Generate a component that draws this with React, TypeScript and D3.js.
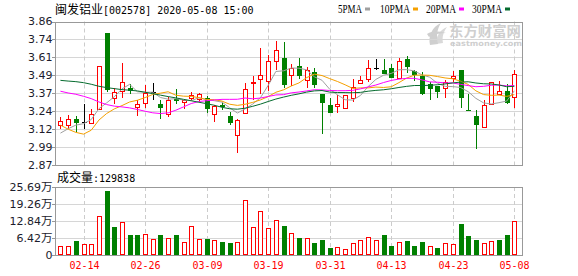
import React from 'react';
import * as d3 from 'd3';

const dates = ['02-11','02-12','02-13','02-14','02-17','02-18','02-19','02-20','02-21','02-24','02-25','02-26','02-27','02-28','03-02','03-03','03-04','03-05','03-06','03-09','03-10','03-11','03-12','03-13','03-16','03-17','03-18','03-19','03-20','03-23','03-24','03-25','03-26','03-27','03-30','03-31','04-01','04-02','04-03','04-07','04-08','04-09','04-10','04-13','04-14','04-15','04-16','04-17','04-20','04-21','04-22','04-23','04-24','04-27','04-28','04-29','04-30','05-06','05-07','05-08'];

const opens = [3.145,3.145,3.184,3.17,3.163,3.253,3.78,3.335,3.379,3.402,
  3.271,3.301,3.375,3.294,3.225,3.326,3.305,3.335,3.328,3.335,
  3.225,3.283,3.207,3.074,3.23,3.44,3.466,3.45,3.587,3.608,
  3.493,3.551,3.454,3.512,3.358,3.282,3.276,3.266,3.335,3.438,
  3.466,3.54,3.528,3.541,3.47,3.603,3.519,3.482,3.431,3.413,
  3.404,3.47,3.523,3.25,3.207,3.129,3.294,3.363,3.379,3.34];
const highs = [3.202,3.218,3.207,3.294,3.253,3.55,3.783,3.402,3.574,3.427,
  3.321,3.42,3.436,3.321,3.34,3.397,3.321,3.374,3.367,3.344,
  3.282,3.305,3.237,3.185,3.436,3.482,3.677,3.626,3.723,3.716,
  3.564,3.61,3.546,3.541,3.358,3.335,3.351,3.356,3.466,3.482,
  3.592,3.603,3.603,3.569,3.61,3.619,3.528,3.512,3.443,3.413,
  3.459,3.519,3.523,3.363,3.248,3.317,3.443,3.45,3.431,3.528];
const lows = [3.117,3.117,3.099,3.117,3.156,3.25,3.374,3.289,3.335,3.363,
  3.211,3.264,3.321,3.184,3.202,3.294,3.253,3.312,3.305,3.23,
  3.168,3.248,3.145,2.955,3.225,3.321,3.363,3.381,3.523,3.404,
  3.413,3.466,3.404,3.404,3.083,3.232,3.232,3.266,3.305,3.438,
  3.443,3.523,3.5,3.47,3.47,3.505,3.45,3.351,3.321,3.335,
  3.335,3.443,3.264,3.246,2.978,3.129,3.294,3.363,3.294,3.264];
const closes = [3.175,3.186,3.161,3.17,3.225,3.55,3.386,3.374,3.443,3.379,
  3.294,3.37,3.375,3.26,3.321,3.312,3.321,3.356,3.36,3.253,
  3.278,3.271,3.161,3.18,3.397,3.445,3.489,3.585,3.66,3.42,
  3.541,3.484,3.528,3.42,3.299,3.232,3.294,3.356,3.408,3.459,
  3.54,3.54,3.5,3.47,3.585,3.546,3.493,3.363,3.392,3.374,
  3.443,3.482,3.333,3.246,3.145,3.287,3.443,3.379,3.301,3.5];
// volume in 万手
const volumes = [3.40,3.40,5.29,4.03,4.03,14.73,24.17,10.58,12.34,7.55,
  7.55,7.81,6.04,7.55,6.42,7.55,4.78,10.83,6.04,6.04,
  5.54,4.91,4.53,4.78,20.78,10.58,16.49,10.2,13.09,10.95,
  8.18,6.42,6.3,4.53,5.67,2.64,3.02,2.27,4.53,5.54,
  6.67,5.54,7.55,3.40,4.78,5.29,3.40,4.91,3.40,2.64,
  4.41,4.15,11.71,7.18,5.67,4.41,5.16,5.67,7.55,12.98];

// moving-average values before enough closes are in the window
const ma5Head = [3.09, 3.12, 3.145, 3.155];
const ma10Head = [3.145, 3.117, 3.095, 3.083, 3.11, 3.18, 3.225, 3.257, 3.28];
const ma20Head = [3.379, 3.367, 3.358, 3.344, 3.328, 3.305, 3.287, 3.276, 3.271, 3.264, 3.253, 3.241, 3.23, 3.225, 3.23, 3.248, 3.271, 3.294, 3.308];
const ma30Head = [3.454, 3.449, 3.445, 3.438, 3.427, 3.413, 3.404, 3.397, 3.39, 3.386, 3.381, 3.372, 3.362, 3.352, 3.342, 3.333, 3.323, 3.313, 3.303, 3.293, 3.282, 3.268, 3.258, 3.255, 3.262, 3.275, 3.29, 3.308, 3.325];

const priceDomain = [2.87, 3.86];
const priceTickLabels = ['2.87','2.99','3.12','3.24','3.37','3.49','3.61','3.74','3.86'];
const volMax = 25.686;
const volTickLabels = ['0','6.42万','12.84万','19.26万','25.69万'];
const dateTickLabels = ['02-14','02-26','03-09','03-19','03-31','04-13','04-23','05-08'];
const legendItems = ['5PMA','10PMA','20PMA','30PMA'];
const maPeriods = [5, 10, 20, 30];
const maColors = ['#a0a0a0', '#f5a000', '#ff00ff', '#056b2e'];
const title = { name: '闽发铝业', rest: '[002578] 2020-05-08 15:00' };
const volLabel = { name: '成交量', rest: ':129838' };

const RED = '#ff0000';
const GREEN = '#008000';

function movingAvg(n: number, head: number[]) {
  return closes.map((c, i) => (i < n - 1 ? head[i] : (d3.mean(closes.slice(i - n + 1, i + 1)) as number)));
}

export default function App() {
  const W = 578, H = 276;
  const L = 55, R = 522;
  const pTop = 21.5, pBot = 165;
  const vTop = 187, vBot = 255;

  const x = d3.scaleBand<string>().domain(dates).range([56.6, 518.2]).paddingInner(0).paddingOuter(0);
  const bw = x.bandwidth();
  const cx = (d: string) => Math.round((x(d) as number) + bw / 2);
  const y = d3.scaleLinear().domain(priceDomain).range([pBot, pTop]);
  const yv = d3.scaleLinear().domain([0, volMax]).range([vBot, vTop]);

  const priceTickVals = priceTickLabels.map((_, k) => priceDomain[0] + (k * (priceDomain[1] - priceDomain[0])) / (priceTickLabels.length - 1));
  const volTickVals = volTickLabels.map((_, k) => (k * volMax) / (volTickLabels.length - 1));

  const heads = [ma5Head, ma10Head, ma20Head, ma30Head];
  const mas = maPeriods.map((n, k) => movingAvg(n, heads[k]));
  const line = d3.line<number>().x((_, i) => (x(dates[i]) as number) + bw / 2).y((v) => y(v));

  const monoFont = "'DejaVu Sans Mono', monospace";
  const cjkFont = "'Noto Sans CJK SC', sans-serif";
  const numFont = "'DejaVu Sans', sans-serif";

  return (
    <svg width={W} height={H} style={{ position: 'absolute', left: 0, top: 0, background: '#fff' }}>
      <rect x={0} y={0} width={W} height={H} fill="#fff" />
      {/* title */}
      <text x={55} y={14} fontSize={12} fill="#000">
        <tspan fontFamily={cjkFont}>{title.name}</tspan>
        <tspan fontFamily={monoFont} fontSize={10}>{title.rest}</tspan>
      </text>
      {/* legend */}
      {legendItems.map((t, k) => {
        const starts = [338, 380, 426, 472];
        const w = t.length * 6;
        return (
          <g key={t}>
            <text x={starts[k]} y={13} fontSize={12} fontFamily="'Liberation Serif', serif" textLength={w} lengthAdjust="spacingAndGlyphs" fill="#000">{t}</text>
            <rect x={starts[k] + w + 3} y={7.5} width={5} height={3} fill={maColors[k]} />
          </g>
        );
      })}

      {/* watermark */}
      <g fill="#cfcfcf">
        <path d="M430 45 C428 36 432 27 441 23 C437 29 436 36 438 44 Z" />
        <path d="M436 44 C436 36 440 30 447 27 C443 32 442 38 443 43 Z" opacity={0.8} />
        <path d="M427 34 C432 31 439 31 446 33 C440 33 434 34 429 37 Z" />
        <text x={449} y={35.5} fontSize={13.5} fontWeight="bold" fontFamily={cjkFont} textLength={72} lengthAdjust="spacingAndGlyphs">东方财富网</text>
        <text x={450} y={46} fontSize={7.5} fontWeight="bold" fontFamily={numFont} textLength={72} lengthAdjust="spacingAndGlyphs">eastmoney.com</text>
      </g>

      {/* price grid */}
      {priceTickVals.map((v, k) => (
        <line key={'pg' + k} x1={L} x2={R} y1={Math.round(y(v)) + 0.5} y2={Math.round(y(v)) + 0.5} stroke="#d6d6d6" strokeWidth={1} />
      ))}
      {volTickVals.map((v, k) => (
        <line key={'vg' + k} x1={L} x2={R} y1={Math.round(yv(v)) + 0.5} y2={Math.round(yv(v)) + 0.5} stroke="#d6d6d6" strokeWidth={1} />
      ))}
      {dateTickLabels.map((d) => (
        <g key={'dg' + d}>
          <line x1={cx(d) + 0.5} x2={cx(d) + 0.5} y1={pTop} y2={pBot} stroke="#cccccc" strokeDasharray="4,3" />
          <line x1={cx(d) + 0.5} x2={cx(d) + 0.5} y1={vTop} y2={vBot} stroke="#cccccc" strokeDasharray="4,3" />
        </g>
      ))}

      {/* candles */}
      {dates.map((d, i) => {
        const o = opens[i], c = closes[i], h = highs[i], l = lows[i];
        const px = cx(d);
        const col = c > o ? RED : c < o ? GREEN : '#000';
        const yTop = Math.round(y(Math.max(o, c)));
        const yBot = Math.round(y(Math.min(o, c)));
        return (
          <g key={'c' + i} shapeRendering="crispEdges">
            <line x1={px + 0.5} x2={px + 0.5} y1={Math.round(y(h))} y2={Math.round(y(l))} stroke={col} strokeWidth={1} />
            {c > o && (
              <rect x={px - 2 + 0.5} y={yTop + 0.5} width={4} height={Math.max(yBot - yTop, 1)} fill="#fff" stroke={RED} strokeWidth={1} />
            )}
            {c < o && <rect x={px - 2} y={yTop} width={5} height={Math.max(yBot - yTop, 1)} fill={GREEN} />}
            {c === o && <line x1={px - 2} x2={px + 3} y1={yTop + 0.5} y2={yTop + 0.5} stroke="#000" />}
          </g>
        );
      })}

      {/* moving averages */}
      {mas.map((arr, k) => (
        <path key={'ma' + k} d={line(arr) as string} fill="none" stroke={maColors[k]} strokeWidth={1} />
      ))}

      {/* volume bars */}
      {dates.map((d, i) => {
        const up = i === 0 || closes[i] >= closes[i - 1];
        const px = cx(d);
        const top = Math.round(yv(volumes[i]));
        return up ? (
          <rect key={'v' + i} x={px - 2 + 0.5} y={top + 0.5} width={4} height={vBot - top - 1} fill="#fff" stroke={RED} strokeWidth={1} shapeRendering="crispEdges" />
        ) : (
          <rect key={'v' + i} x={px - 2} y={top} width={5} height={vBot - top} fill={GREEN} shapeRendering="crispEdges" />
        );
      })}

      {/* frames */}
      <rect x={L + 0.5} y={Math.round(pTop) + 0.5} width={R - L} height={Math.round(pBot) - Math.round(pTop)} fill="none" stroke="#999" strokeWidth={1} shapeRendering="crispEdges" />
      <rect x={L + 0.5} y={vTop + 0.5} width={R - L} height={vBot - vTop} fill="none" stroke="#999" strokeWidth={1} shapeRendering="crispEdges" />

      {/* price axis labels */}
      {priceTickVals.map((v, k) => (
        <g key={'pl' + k}>
          <line x1={52} x2={L} y1={Math.round(y(v)) + 0.5} y2={Math.round(y(v)) + 0.5} stroke="#999" />
          <text x={52.5} y={y(v)} dy="0.36em" textAnchor="end" fontSize={11} fontFamily={numFont} fill="#1c1c2c">{priceTickLabels[k]}</text>
        </g>
      ))}

      {/* volume label */}
      <text x={57} y={182} fontSize={12} fill="#000">
        <tspan fontFamily={cjkFont}>{volLabel.name}</tspan>
        <tspan fontFamily={monoFont} fontSize={10}>{volLabel.rest}</tspan>
      </text>

      {/* volume axis labels */}
      {volTickVals.map((v, k) => {
        const lab = volTickLabels[k];
        const hasWan = lab.endsWith('万');
        return (
          <g key={'vl' + k}>
            <line x1={52} x2={L} y1={Math.round(yv(v)) + 0.5} y2={Math.round(yv(v)) + 0.5} stroke="#999" />
            <text x={52.5} y={yv(v)} dy="0.36em" textAnchor="end" fontSize={11} fontFamily={numFont} fill="#1c1c2c">
              {hasWan ? lab.slice(0, -1) : lab}
              {hasWan && <tspan fontFamily={cjkFont} fontSize={11.5}>万</tspan>}
            </text>
          </g>
        );
      })}

      {/* date labels */}
      {dateTickLabels.map((d) => (
        <text key={'dl' + d} x={cx(d) + 0.5} y={269} textAnchor="middle" fontSize={10} fontFamily={monoFont} fill={RED}>{d}</text>
      ))}
    </svg>
  );
}
